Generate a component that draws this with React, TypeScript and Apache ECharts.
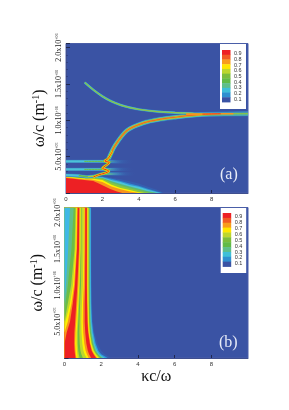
import React, { useEffect, useRef } from "react";
import * as echarts from "echarts";

const SERIF = "'Liberation Serif','Times New Roman',serif";
const SANS = "'Liberation Sans',Arial,sans-serif";
const BG = "#3a53a4";

const xTickLabels = ["0", "2", "4", "6", "8"];
const yTickLabels: Record<string, [string, string]> = {
  "0.5": ["5.0x10", "+05"],
  "1": ["1.0x10", "+06"],
  "1.5": ["1.5x10", "+06"],
  "2": ["2.0x10", "+06"],
};
const legendValues = ["0.9", "0.8", "0.7", "0.6", "0.5", "0.4", "0.3", "0.2", "0.1"];
const legendColors = ["#ed2024", "#f15a24", "#f89c1c", "#ffe600", "#bdd62e", "#7cbd3c", "#62bb47", "#5fbf8a", "#3fbfd8", "#2f90d0", "#3a53a4"];

// Panel (a): filled region near the origin, outermost contour first (κc/ω, ω/c in 1e6)
const aContourColors = ["#365fb0", "#2f8fd2", "#4cc3d8", "#62bb6a", "#8cc63f", "#fff000", "#f8941d", "#ed2024"];
const aContours: number[][][] = [
  [[0, 0.27], [1, 0.24], [1.5, 0.235], [2, 0.235], [2.5, 0.21], [3, 0.19], [3.5, 0.16], [4, 0.13], [4.5, 0.085], [5, 0.045], [5.4, 0]],
  [[0, 0.26], [1, 0.232], [1.5, 0.228], [2, 0.225], [2.5, 0.195], [3, 0.165], [3.5, 0.13], [4, 0.1], [4.5, 0.06], [5, 0.022], [5.3, 0]],
  [[0, 0.25], [1, 0.225], [1.5, 0.22], [2, 0.215], [2.5, 0.18], [3, 0.15], [3.5, 0.11], [4, 0.085], [4.5, 0.045], [5.2, 0]],
  [[0, 0.24], [1, 0.215], [1.5, 0.212], [2, 0.205], [2.5, 0.16], [3, 0.125], [3.5, 0.09], [4, 0.06], [4.5, 0.025], [5, 0]],
  [[0, 0.232], [1, 0.208], [1.5, 0.205], [2, 0.195], [2.5, 0.14], [3, 0.1], [3.5, 0.065], [4, 0.035], [4.6, 0]],
  [[0, 0.225], [1, 0.2], [1.5, 0.195], [2, 0.18], [2.5, 0.115], [3, 0.07], [3.5, 0.04], [4, 0.012], [4.3, 0]],
  [[0, 0.215], [1, 0.19], [1.4, 0.185], [1.7, 0.17], [2, 0.15], [2.5, 0.09], [3, 0.05], [3.5, 0.02], [4, 0]],
  [[0, 0.205], [1, 0.178], [1.5, 0.165], [1.8, 0.13], [2, 0.105], [2.4, 0.06], [2.8, 0.022], [3.1, 0]],
];

// Panel (a): ridges
const upperBranch = [[1.03, 1.52], [1.5, 1.42], [2, 1.33], [2.5, 1.26], [3, 1.21], [3.5, 1.175], [4, 1.15], [5, 1.12], [6, 1.105], [7, 1.095], [8, 1.09], [10, 1.09]];
const lowerBranch = [[2.34, 0.47], [2.7, 0.655], [3.35, 0.86], [4.27, 0.965], [5.18, 1.015], [6.1, 1.045], [7, 1.07], [7.9, 1.083], [10, 1.09]];
const mergeRidge = [[6.6, 1.085], [7.5, 1.085], [8.5, 1.09], [9.2, 1.09]];
const bandTop = [[0, 0.435], [1, 0.435], [2, 0.435], [3, 0.43], [3.8, 0.43]];
const bandMid = [[0, 0.325], [1, 0.325], [2, 0.325], [3, 0.325], [3.8, 0.325]];
const bandLow = [[0, 0.245], [0.7, 0.24], [1.2, 0.225], [1.6, 0.235], [2, 0.262], [3, 0.262], [3.9, 0.262]];
const zigzag = [[2.55, 0.57], [2.3, 0.47], [2.12, 0.44], [2.38, 0.42], [2.2, 0.38], [2.0, 0.34], [2.2, 0.32], [2.36, 0.3], [2.1, 0.27], [1.8, 0.25], [1.5, 0.22]];

// Panel (b): rows and contour edges (fill reaches from x=0 to the edge), right to left
const bRows = [0, 0.05, 0.1, 0.2, 0.35, 0.5, 0.75, 1.0, 1.5, 2.07];
const bColors = ["#365fb0", "#2f9fdc", "#4cc3d8", "#5fbf8a", "#6cbd45", "#bdd62e", "#fff000", "#f8941d", "#ed2024", "#f8941d", "#fff000", "#bdd62e", "#6cbd45", "#bdd62e", "#fff000", "#f8941d", "#ed2024", "#f8941d", "#fff000", "#bdd62e", "#6cbd45", "#5fbf8a", "#3fb8e6"];
const bEdges: number[][] = [
  [2.55, 2.2, 2.0, 1.8, 1.63, 1.55, 1.5, 1.48, 1.47, 1.47],
  [2.35, 2.0, 1.85, 1.7, 1.57, 1.5, 1.46, 1.45, 1.44, 1.44],
  [2.2, 1.9, 1.78, 1.63, 1.52, 1.46, 1.43, 1.42, 1.41, 1.41],
  [2.1, 1.85, 1.73, 1.59, 1.48, 1.43, 1.4, 1.39, 1.38, 1.38],
  [2.0, 1.8, 1.67, 1.54, 1.43, 1.39, 1.37, 1.36, 1.35, 1.35],
  [1.93, 1.74, 1.62, 1.49, 1.39, 1.35, 1.33, 1.32, 1.32, 1.32],
  [1.85, 1.69, 1.57, 1.45, 1.36, 1.32, 1.3, 1.29, 1.29, 1.29],
  [1.78, 1.63, 1.52, 1.41, 1.32, 1.28, 1.26, 1.25, 1.25, 1.25],
  [1.72, 1.58, 1.48, 1.38, 1.29, 1.25, 1.23, 1.22, 1.22, 1.22],
  [1.45, 1.34, 1.27, 1.19, 1.13, 1.1, 1.1, 1.12, 1.13, 1.13],
  [1.32, 1.22, 1.15, 1.08, 1.02, 1.0, 1.01, 1.05, 1.08, 1.09],
  [1.2, 1.1, 1.03, 0.97, 0.93, 0.92, 0.95, 1.0, 1.04, 1.05],
  [1.0, 0.92, 0.87, 0.83, 0.81, 0.82, 0.85, 0.9, 0.92, 0.93],
  [0.82, 0.78, 0.75, 0.72, 0.72, 0.75, 0.8, 0.84, 0.89, 0.9],
  [0.72, 0.7, 0.68, 0.66, 0.66, 0.7, 0.75, 0.8, 0.86, 0.87],
  [0.65, 0.62, 0.6, 0.58, 0.6, 0.64, 0.7, 0.76, 0.83, 0.84],
  [0.6, 0.57, 0.55, 0.53, 0.54, 0.58, 0.64, 0.7, 0.79, 0.8],
  [0, 0, 0, 0, 0.12, 0.3, 0.45, 0.57, 0.68, 0.72],
  [0, 0, 0, 0, 0, 0.18, 0.38, 0.52, 0.65, 0.69],
  [0, 0, 0, 0, 0, 0.05, 0.3, 0.46, 0.6, 0.65],
  [0, 0, 0, 0, 0, 0, 0.18, 0.36, 0.55, 0.6],
  [0, 0, 0, 0, 0, 0, 0.05, 0.18, 0.38, 0.5],
  [0, 0, 0, 0, 0, 0, 0, 0.08, 0.2, 0.3],
];

const aBox = { left: 66, top: 43.5, width: 182, height: 149.5 };
const bBox = { left: 64.5, top: 207.5, width: 183.5, height: 150.5 };

// horizontal fade in page pixels along a band of panel (a)
const fade = (color: string, startX: number, endX: number) =>
  new echarts.graphic.LinearGradient(
    aBox.left + (startX * aBox.width) / 10, 0, aBox.left + (endX * aBox.width) / 10, 0,
    [
      { offset: 0, color },
      { offset: 1, color: "rgba(58,83,164,0)" },
    ],
    true
  );

type Layer = { data: number[][]; color: any; width: number };
const ridgeLayers: Layer[] = [
  { data: lowerBranch, color: "#3570ba", width: 5 },
  { data: lowerBranch, color: "#4cc3d8", width: 3.9 },
  { data: lowerBranch, color: "#62bb6a", width: 3 },
  { data: lowerBranch, color: "#c8cf28", width: 2.1 },
  { data: lowerBranch, color: "#ee6a24", width: 1.2 },
  { data: upperBranch, color: "#3570ba", width: 2.8 },
  { data: upperBranch, color: "#4cc3d8", width: 2 },
  { data: upperBranch, color: "#62bb6a", width: 1.3 },
  { data: upperBranch, color: "#b5c92e", width: 0.6 },
  { data: mergeRidge, color: "#f8941d", width: 1.7 },
  { data: mergeRidge.slice(1, 3), color: "#ed3a24", width: 1 },
  { data: bandTop, color: fade("#3570ba", 2.6, 3.8), width: 3.4 },
  { data: bandTop, color: fade("#4cc3d8", 2.3, 3.2), width: 2.1 },
  { data: bandTop.slice(1, 4), color: fade("#6cbd45", 2.1, 2.9), width: 1 },
  { data: bandMid, color: fade("#3570ba", 2.6, 3.8), width: 3.4 },
  { data: bandMid, color: fade("#4cc3d8", 2.3, 3.2), width: 2.1 },
  { data: bandMid.slice(1, 4), color: fade("#6cbd45", 2.1, 2.9), width: 1 },
  { data: bandLow, color: fade("#3570ba", 2.8, 3.9), width: 3.2 },
  { data: bandLow, color: fade("#4cc3d8", 2.4, 3.4), width: 2.2 },
  { data: bandLow.slice(1, 6), color: fade("#6cbd45", 2.1, 3), width: 1.4 },
  { data: bandLow.slice(2, 5), color: "#d8d820", width: 0.8 },
  { data: zigzag, color: "#6cbd45", width: 2.8 },
  { data: zigzag, color: "#fff000", width: 1.9 },
  { data: zigzag, color: "#ed2024", width: 1 },
];

function xAxis(gridIndex: number) {
  return {
    type: "value", gridIndex, min: 0, max: 10, interval: 2,
    axisLine: { show: true, onZero: false, lineStyle: { color: "#3f4f8f", width: 1 } },
    axisTick: { show: true, inside: true, length: 3, lineStyle: { color: "#20284f", width: 1 } },
    minorTick: { show: false },
    splitLine: { show: false },
    axisLabel: {
      show: true, fontFamily: SANS, fontSize: 6, color: "#333", margin: 3, showMaxLabel: false,
      formatter: (v: number) => xTickLabels[v / 2] ?? "",
    },
    ...(gridIndex === 1
      ? { name: "κc/ω", nameLocation: "middle", nameGap: 7, nameTextStyle: { fontFamily: SERIF, fontSize: 16, color: "#111" } }
      : {}),
  };
}
function yAxis(gridIndex: number, max: number) {
  return {
    type: "value", gridIndex, min: 0, max, interval: 0.5,
    name: "{a|ω/c (m}{s|-1}{a|)}", nameLocation: "middle", nameRotate: 90, nameGap: 19,
    nameTextStyle: {
      rich: {
        a: { fontFamily: SERIF, fontSize: 16, color: "#111", lineHeight: 16 },
        s: { fontFamily: SERIF, fontSize: 10, color: "#111", lineHeight: 16, verticalAlign: "top" },
      },
    },
    axisLine: { show: true, onZero: false, lineStyle: { color: "#3f4f8f", width: 1 } },
    axisTick: { show: true, inside: true, length: 4, lineStyle: { color: "#20284f", width: 1 } },
    minorTick: { show: true, splitNumber: 5, length: 2, lineStyle: { color: "#2a3570", width: 0.6 } },
    splitLine: { show: false },
    axisLabel: {
      show: true, rotate: 90, margin: 3, showMaxLabel: false,
      formatter: (v: number) => {
        const t = yTickLabels[String(v)];
        return t ? `{a|${t[0]}}{s|${t[1]}}` : "";
      },
      rich: {
        a: { fontFamily: SERIF, fontSize: 8, color: "#222", lineHeight: 9 },
        s: { fontFamily: SERIF, fontSize: 4, color: "#222", lineHeight: 9, verticalAlign: "top" },
      },
    },
  };
}

function legendGraphics(x: number, y: number, w: number, h: number, barX: number, barY: number, barH: number) {
  const items: any[] = [
    { type: "rect", x, y, shape: { width: w, height: h }, style: { fill: "#fff" }, z: 100 },
  ];
  const n = legendColors.length;
  const step = barH / n;
  legendColors.forEach((c, i) => {
    items.push({
      type: "rect", x: barX, y: barY + i * step, shape: { width: 8.5, height: step + 0.4 },
      style: { fill: c }, z: 101,
    });
  });
  legendValues.forEach((t, i) => {
    items.push({
      type: "text", x: barX + 12, y: barY + 3.3 + i * ((barH - 6.5) / 8),
      style: { text: t, fontFamily: SANS, fontSize: 5.5, fill: "#333", verticalAlign: "middle" }, z: 101,
    });
  });
  return items;
}

export default function App() {
  const ref = useRef<HTMLDivElement>(null);
  useEffect(() => {
    document.body.style.margin = "0";
    const chart = echarts.init(ref.current!, undefined, { renderer: "svg" });
    const aFill = {
      type: "custom", xAxisIndex: 0, yAxisIndex: 0, clip: true, silent: true,
      data: aContours.map((_, i) => [i, 0]),
      renderItem: (params: any, api: any) => {
        const c = aContours[params.dataIndex];
        const pts = [[0, 0], ...c].map((p) => api.coord(p));
        return { type: "polygon", shape: { points: pts }, style: { fill: aContourColors[params.dataIndex] } };
      },
    };
    const bFill = {
      type: "custom", xAxisIndex: 1, yAxisIndex: 1, clip: true, silent: true,
      data: bEdges.map((_, i) => [i, 0]),
      renderItem: (params: any, api: any) => {
        const e = bEdges[params.dataIndex];
        const pts = [[0, bRows[0]], ...e.map((x, k) => [x, bRows[k]]), [0, bRows[bRows.length - 1]]].map((p) => api.coord(p));
        return { type: "polygon", shape: { points: pts }, style: { fill: bColors[params.dataIndex] } };
      },
    };
    const lines = ridgeLayers.map((l) => ({
      type: "line", xAxisIndex: 0, yAxisIndex: 0, data: l.data, smooth: 0.3, showSymbol: false, silent: true,
      clip: true, lineStyle: { color: l.color, width: l.width, cap: "butt" }, z: 3,
    }));
    chart.setOption({
      animation: false,
      backgroundColor: "#fff",
      grid: [
        { ...aBox, show: true, backgroundColor: BG, borderColor: "#4a5ea8", borderWidth: 1, containLabel: false },
        { ...bBox, show: true, backgroundColor: BG, borderColor: "#4a5ea8", borderWidth: 1, containLabel: false },
      ],
      xAxis: [xAxis(0), xAxis(1)],
      yAxis: [yAxis(0, 2.056), yAxis(1, 2.07)],
      series: [aFill, bFill, ...lines],
      graphic: [
        ...legendGraphics(220, 44, 26, 65, 222, 50, 52),
        ...legendGraphics(220.7, 208, 25.5, 65, 222.7, 213, 53.5),
        { type: "text", x: 220, y: 165, style: { text: "(a)", fontFamily: SERIF, fontSize: 16, fill: "#e8ecf8" }, z: 100 },
        { type: "text", x: 219, y: 333, style: { text: "(b)", fontFamily: SERIF, fontSize: 16, fill: "#e8ecf8" }, z: 100 },
      ],
    } as any);
    return () => chart.dispose();
  }, []);
  return (
    <div
      ref={ref}
      style={{ position: "fixed", left: 0, top: 0, width: 289, height: 410, filter: "blur(0.5px)" }}
    />
  );
}
